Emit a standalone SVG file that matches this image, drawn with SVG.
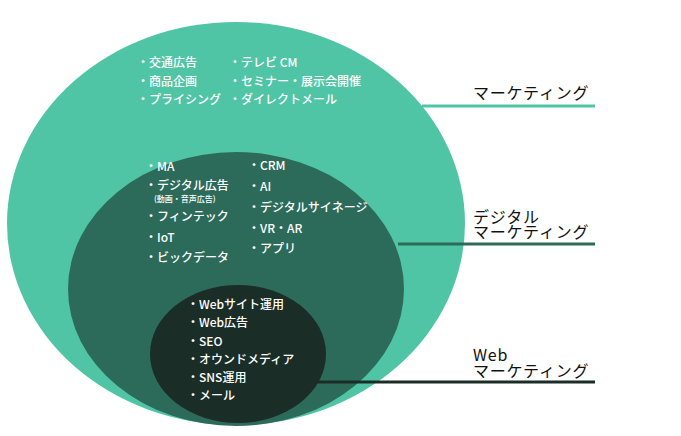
<svg xmlns="http://www.w3.org/2000/svg" width="681" height="436" viewBox="0 0 681 436">
<style>
.w{fill:#ffffff;font-family:"Noto Sans CJK JP","Noto Sans",sans-serif;font-size:12px;font-weight:500}
.s{font-size:8px}
.lab{fill:#111111;font-family:"Noto Sans CJK JP","Noto Sans",sans-serif;font-size:16px;letter-spacing:0.8px}
</style>
<rect width="681" height="436" fill="#ffffff"/>
<g id="marketing">
<ellipse cx="236" cy="223.5" rx="229" ry="201.5" fill="#50c5a5"/>
<text class="w" x="137" y="67">・交通広告</text>
<text class="w" x="137" y="86">・商品企画</text>
<text class="w" x="137" y="104">・プライシング</text>
<text class="w" x="229" y="67">・テレビ CM</text>
<text class="w" x="229" y="86">・セミナー・展示会開催</text>
<text class="w" x="229" y="104">・ダイレクトメール</text>
</g>
<g id="digital">
<ellipse cx="236" cy="289" rx="168" ry="137" fill="#2c6b5a"/>
<text class="w" x="145" y="171">・MA</text>
<text class="w" x="145" y="190">・デジタル広告</text>
<text class="w s" x="154" y="202">(動画・音声広告)</text>
<text class="w" x="145" y="221">・フィンテック</text>
<text class="w" x="145" y="242">・IoT</text>
<text class="w" x="145" y="262">・ビックデータ</text>
<text class="w" x="248" y="170">・CRM</text>
<text class="w" x="248" y="191">・AI</text>
<text class="w" x="248" y="212">・デジタルサイネージ</text>
<text class="w" x="248" y="233">・VR・AR</text>
<text class="w" x="248" y="253">・アプリ</text>
</g>
<g id="web">
<ellipse cx="238" cy="354" rx="88" ry="69" fill="#1b2d27"/>
<text class="w" x="187" y="309">・Webサイト運用</text>
<text class="w" x="187" y="327">・Web広告</text>
<text class="w" x="187" y="346">・SEO</text>
<text class="w" x="187" y="364">・オウンドメディア</text>
<text class="w" x="187" y="382">・SNS運用</text>
<text class="w" x="187" y="400">・メール</text>
</g>
<g id="connectors" stroke-width="3" fill="none">
<line x1="422" y1="106" x2="595" y2="106" stroke="#50c5a5"/>
<line x1="398" y1="244" x2="595" y2="244" stroke="#2c6b5a"/>
<line x1="316" y1="382" x2="595" y2="382" stroke="#1b2d27"/>
</g>
<g id="labels">
<text class="lab" x="473" y="99">マーケティング</text>
<text class="lab" x="473" y="223">デジタル</text>
<text class="lab" x="473" y="238">マーケティング</text>
<text class="lab" x="473" y="361">Web</text>
<text class="lab" x="473" y="377">マーケティング</text>
</g>
</svg>
